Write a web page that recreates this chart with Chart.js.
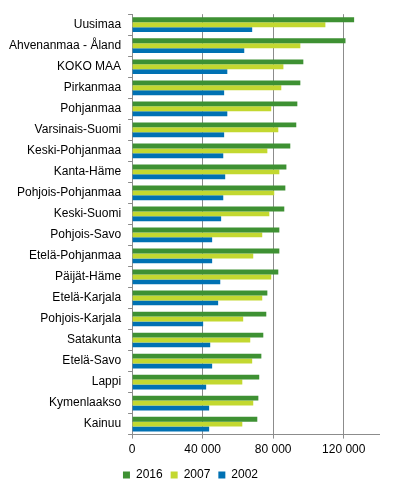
<!DOCTYPE html>
<html>
<head>
<meta charset="utf-8">
<script src="https://cdn.jsdelivr.net/npm/chart.js@4/dist/chart.umd.min.js"></script>
<style>
  html, body { margin: 0; padding: 0; background: #fff; }
  #wrap { width: 416px; height: 491px; position: relative; }
</style>
</head>
<body>
<div id="wrap"><canvas id="chart"></canvas></div>
<script>
const regions = ['Uusimaa', 'Ahvenanmaa - Åland', 'KOKO MAA', 'Pirkanmaa', 'Pohjanmaa',
    'Varsinais-Suomi', 'Keski-Pohjanmaa', 'Kanta-Häme', 'Pohjois-Pohjanmaa', 'Keski-Suomi',
    'Pohjois-Savo', 'Etelä-Pohjanmaa', 'Päijät-Häme', 'Etelä-Karjala', 'Pohjois-Karjala',
    'Satakunta', 'Etelä-Savo', 'Lappi', 'Kymenlaakso', 'Kainuu'];
const v2016 = [125900, 121000, 97100, 95400, 93700, 93100, 89700, 87500, 86900, 86300,
    83500, 83500, 82900, 76700, 76100, 74400, 73300, 72100, 71600, 71000];
const v2007 = [109600, 95400, 85800, 84600, 78900, 82900, 76700, 83500, 80600, 77800,
    73800, 68700, 78900, 73800, 63000, 67000, 68100, 62500, 68700, 62500];
const v2002 = [68100, 63600, 54000, 52200, 54000, 52200, 51700, 52800, 51700, 50500,
    45400, 45400, 50000, 48800, 40300, 44300, 45400, 42000, 43700, 43700];
const xTicks = [0, 40000, 80000, 120000];

const FONT = { family: '"Liberation Sans", Arial, sans-serif', size: 12 };
const GRID = '#8c8c8c';

new Chart(document.getElementById('chart').getContext('2d'), {
    type: 'bar',
    data: {
        labels: regions,
        datasets: [
            { label: '2016', data: v2016, backgroundColor: '#3e9133' },
            { label: '2007', data: v2007, backgroundColor: '#c3d830' },
            { label: '2002', data: v2002, backgroundColor: '#0071b3' }
        ]
    },
    options: {
        indexAxis: 'y',
        responsive: true,
        maintainAspectRatio: false,
        animation: false,
        datasets: { bar: { categoryPercentage: 0.7, barPercentage: 1 } },
        layout: { padding: { left: 2, top: 13, right: 37, bottom: 0 } },
        scales: {
            x: {
                min: 0, max: 140000,
                afterBuildTicks: axis => { axis.ticks = xTicks.map(v => ({ value: v })); },
                ticks: {
                    font: FONT, color: '#000', padding: 4,
                    callback: v => v === 0 ? '0' : String(v).replace(/\B(?=(\d{3})+(?!\d))/g, ' ')
                },
                grid: { color: GRID, tickLength: 4 },
                border: { color: GRID }
            },
            y: {
                ticks: { font: FONT, color: '#000', padding: 7 },
                grid: { drawOnChartArea: false, color: GRID, tickLength: 4 },
                border: { color: GRID }
            }
        },
        plugins: {
            legend: {
                position: 'bottom',
                labels: { font: FONT, color: '#000', boxWidth: 7, boxHeight: 7, padding: 8 }
            },
            tooltip: { enabled: false }
        }
    }
});
</script>
</body>
</html>
